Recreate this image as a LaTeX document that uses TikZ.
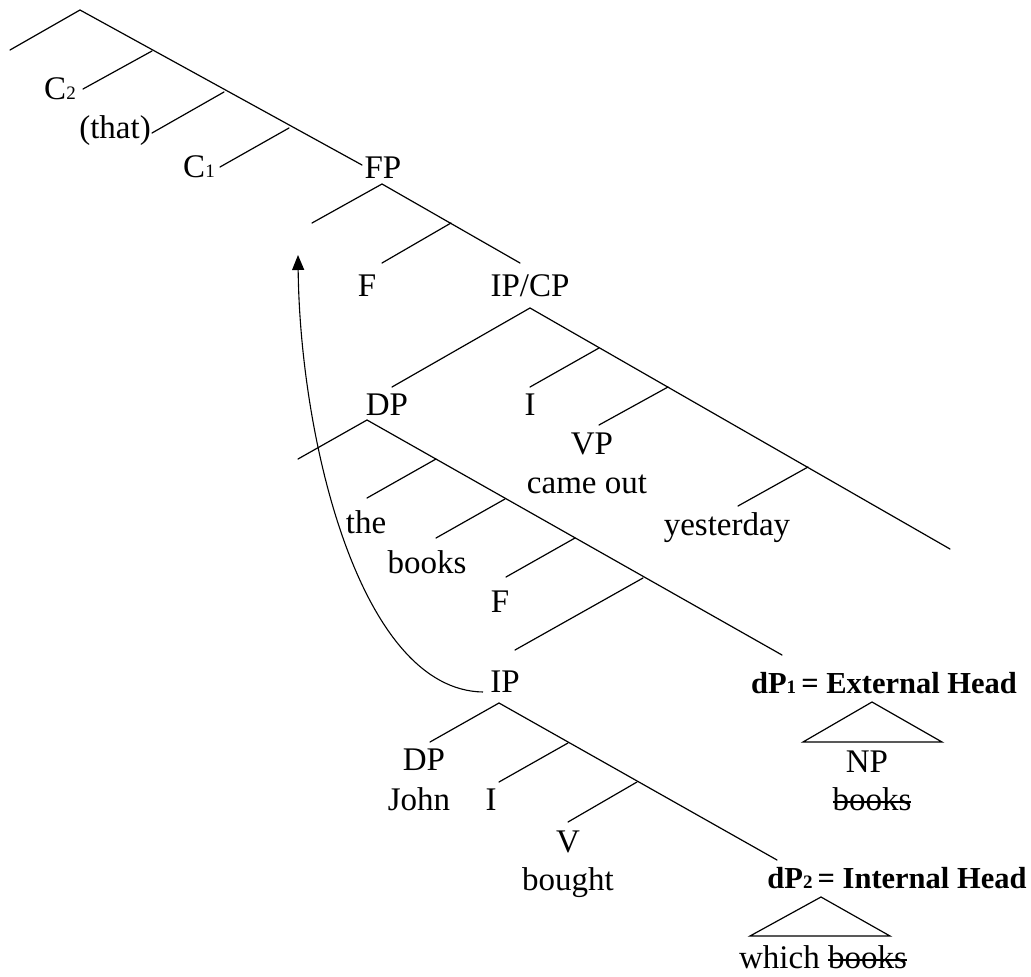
\documentclass[tikz,border=0pt]{standalone}
\usepackage{fontspec}
\setmainfont{Liberation Serif}
\usetikzlibrary{arrows.meta}
\newcommand\sm[1]{{\fontsize{19}{19}\selectfont #1}}
\newcommand\strk[1]{\sbox0{#1}\rlap{\usebox0}\rule[0.22em]{\wd0}{1.3pt}}
\tikzset{
  lbl/.style={anchor=base, inner sep=0pt, font=\fontsize{33}{36}\selectfont},
  blbl/.style={lbl, font=\fontsize{30.5}{34}\selectfont\bfseries},
  edge/.style={line width=1.2pt, line cap=round},
}
\begin{document}
\begin{tikzpicture}[x=1pt,y=-1pt]
\useasboundingbox (0,0) rectangle (1031,977);
% top structure
\coordinate (a0) at (80,10);
\coordinate (aL) at (10,50);
\coordinate (b1) at (152,51);
\coordinate (c2e) at (83,89);
\coordinate (b2) at (224,92);
\coordinate (thate) at (152,133);
\coordinate (b3) at (289,128);
\coordinate (c1e) at (220,167);
\coordinate (fpe) at (362,165);
% FP
\coordinate (fpa) at (382,184);
\coordinate (fpL) at (312,223);
\coordinate (fb1) at (451,223);
\coordinate (fe) at (382,263);
\coordinate (ipcpe) at (520,263);
% IP/CP
\coordinate (ia) at (530,308);
\coordinate (dpe) at (392,387);
\coordinate (ib1) at (599,348);
\coordinate (ie) at (530,387);
\coordinate (ib2) at (668,387);
\coordinate (vpe) at (599,425);
\coordinate (ib3) at (808,467);
\coordinate (ye) at (738,506);
\coordinate (iend) at (950,549);
% DP
\coordinate (da) at (367,420);
\coordinate (dL) at (298,459);
\coordinate (db1) at (436,459);
\coordinate (thee) at (367,498);
\coordinate (db2) at (505,499);
\coordinate (bke) at (436,538);
\coordinate (db3) at (575,538);
\coordinate (fe2) at (506,577);
\coordinate (db4) at (643,578);
\coordinate (ipe) at (515,650);
\coordinate (dend) at (782,655);
% IP
\coordinate (pa) at (499,703);
\coordinate (pL) at (430,742);
\coordinate (pb1) at (568,743);
\coordinate (pie) at (499,782);
\coordinate (pb2) at (637,782);
\coordinate (ve) at (568,822);
\coordinate (pend) at (777,860);
% triangles
\coordinate (t1a) at (872,702);
\coordinate (t1l) at (803,742);
\coordinate (t1r) at (942,742);
\coordinate (t2a) at (821,897);
\coordinate (t2l) at (750,936);
\coordinate (t2r) at (890,936);
% arrow
\coordinate (arrS) at (483,692);
\coordinate (arrT) at (298,255);

% labels
\node[lbl] (C2) at (60,99) {C\sm{2}};
\node[lbl] (that) at (115,138) {(that)};
\node[lbl] (C1) at (199,177) {C\sm{1}};
\node[lbl] (FP) at (383,178) {FP};
\node[lbl] (F1) at (367,296) {F};
\node[lbl] (IPCP) at (530,296) {IP/CP};
\node[lbl] (DP1) at (387,415) {DP};
\node[lbl] (I1) at (530,415) {I};
\node[lbl] (VP) at (592,454) {VP};
\node[lbl] (cameout) at (587,493) {came out};
\node[lbl] (yesterday) at (727,535) {yesterday};
\node[lbl] (the) at (366,533) {the};
\node[lbl] (books1) at (427,573) {books};
\node[lbl] (F2) at (500,612) {F};
\node[lbl] (IP) at (505,692) {IP};
\node[lbl] (DP2) at (424,770) {DP};
\node[lbl] (John) at (419,810) {John};
\node[lbl] (I2) at (491,810) {I};
\node[lbl] (V) at (568,852) {V};
\node[lbl] (bought) at (568,890) {bought};
\node[blbl] (dP1) at (884,693) {dP\sm{1}\,= External Head};
\node[lbl] (NP) at (867,772) {NP};
\node[lbl] (books2) at (872,810) {\strk{books}};
\node[blbl] (dP2) at (897,888) {dP\sm{2}\,= Internal Head};
\node[lbl] (which) at (823,968) {which \strk{books}};

% edges
\draw[edge] (aL) -- (a0) -- (fpe);
\draw[edge] (b1) -- (c2e);
\draw[edge] (b2) -- (thate);
\draw[edge] (b3) -- (c1e);
\draw[edge] (fpL) -- (fpa) -- (ipcpe);
\draw[edge] (fb1) -- (fe);
\draw[edge] (dpe) -- (ia) -- (iend);
\draw[edge] (ib1) -- (ie);
\draw[edge] (ib2) -- (vpe);
\draw[edge] (ib3) -- (ye);
\draw[edge] (dL) -- (da) -- (dend);
\draw[edge] (db1) -- (thee);
\draw[edge] (db2) -- (bke);
\draw[edge] (db3) -- (fe2);
\draw[edge] (db4) -- (ipe);
\draw[edge] (pL) -- (pa) -- (pend);
\draw[edge] (pb1) -- (pie);
\draw[edge] (pb2) -- (ve);
\draw[edge, line cap=butt] (t1a) -- (t1l) -- (t1r) -- cycle;
\draw[edge, line cap=butt] (t2a) -- (t2l) -- (t2r) -- cycle;
\draw[line width=1.1pt, -{Triangle[width=12pt,length=15pt]}] (arrS) .. controls (360,690) and (300,440) .. (arrT);
\end{tikzpicture}
\end{document}
